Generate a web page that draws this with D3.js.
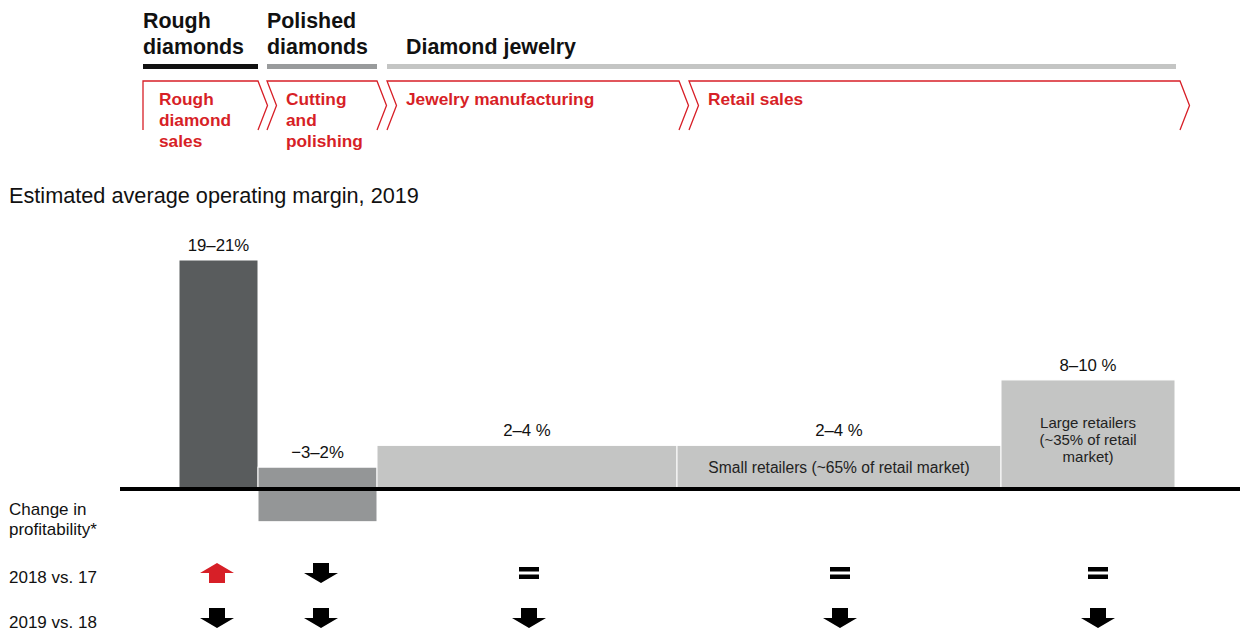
<!DOCTYPE html>
<html>
<head>
<meta charset="utf-8">
<script src="https://cdn.jsdelivr.net/npm/d3@7"></script>
<style>
  html, body { margin: 0; padding: 0; background: #fff; }
  svg { display: block; font-family: "Liberation Sans", Arial, Helvetica, sans-serif; }
</style>
</head>
<body>
<svg id="chart" width="1244" height="631"></svg>
<script>
// Value-chain stages and their operating margins
const headerGroups = [["Rough", "diamonds"], ["Polished", "diamonds"], ["Diamond jewelry"]];
const stageNames = [["Rough", "diamond", "sales"], ["Cutting", "and", "polishing"], ["Jewelry manufacturing"], ["Retail sales"]];
const segments = ["Rough diamonds", "Cutting and polishing", "Jewelry manufacturing", "Small retailers", "Large retailers"];
const marginLow = [19, -3, 2, 2, 8];
const marginHigh = [21, 2, 4, 4, 10];
const marginLabels = ["19–21%", "−3–2%", "2–4 %", "2–4 %", "8–10 %"];
const innerLabels = [[], [], [], ["Small retailers (~65% of retail market)"], ["Large retailers", "(~35% of retail", "market)"]];
const rowLabels = ["2018 vs. 17", "2019 vs. 18"];
const change2018 = ["up", "down", "equal", "equal", "equal"];
const change2019 = ["down", "down", "down", "down", "down"];

// Layout
const svg = d3.select("#chart");
const red = "#d71f27";
const barColors = ["#595c5d", "#949697", "#c4c5c4", "#c4c5c4", "#c4c5c4"];
const headerColors = ["#111111", "#999b9c", "#c4c5c4"];
const headerSpans = [[143, 258], [267, 377], [387, 1176]];
const chevronSpans = [[143, 258], [267, 377], [387, 679], [689, 1180]];
const barEdges = [[179, 258], [258, 377], [377, 677], [677, 1001], [1001, 1175]];
const markX = [217, 321, 529, 840, 1098];

const y = d3.scaleLinear().domain([0, 21]).range([489, 260]);

// Header titles and bars
headerGroups.forEach((lines, i) => {
  const hx = i === 2 ? 406 : headerSpans[i][0];
  const t = svg.append("text")
    .attr("y", lines.length === 2 ? 28 : 54)
    .attr("font-size", 21.4).attr("font-weight", "bold").attr("fill", "#111");
  lines.forEach((l, j) => t.append("tspan").attr("x", hx).attr("dy", j ? 26 : 0).text(l));
});
svg.selectAll("rect.hdr").data(headerSpans).join("rect")
  .attr("class", "hdr")
  .attr("x", d => d[0]).attr("width", d => d[1] - d[0])
  .attr("y", 64).attr("height", 5)
  .attr("fill", (d, i) => headerColors[i]);

// Chevrons (open at the bottom)
const chevTop = 81, chevMid = 105.5, chevBot = 130, notch = 9.5;
chevronSpans.forEach((s, i) => {
  const [x0, x1] = s;
  const p = d3.path();
  if (i === 0) { p.moveTo(x0, chevBot); p.lineTo(x0, chevTop); }
  else { p.moveTo(x0, chevBot); p.lineTo(x0 + notch, chevMid); p.lineTo(x0, chevTop); }
  p.lineTo(x1, chevTop); p.lineTo(x1 + notch, chevMid); p.lineTo(x1, chevBot);
  svg.append("path").attr("d", p.toString()).attr("fill", "none")
    .attr("stroke", red).attr("stroke-width", 1.3);
  const t = svg.append("text").attr("y", 105).attr("font-size", 17.3)
    .attr("font-weight", "bold").attr("fill", red);
  const tx = i === 0 ? 159 : i === 1 ? 286 : x0 + 19;
  stageNames[i].forEach((l, j) => t.append("tspan").attr("x", tx).attr("dy", j ? 21 : 0).text(l));
});

// Title
svg.append("text").attr("x", 9).attr("y", 203).attr("font-size", 21.7)
  .attr("fill", "#111").text("Estimated average operating margin, 2019");

// Bars
const bars = segments.map((s, i) => ({
  name: s, lo: Math.min(0, marginLow[i]), hi: marginHigh[i],
  x0: barEdges[i][0], x1: barEdges[i][1], i
}));
svg.selectAll("rect.bar").data(bars).join("rect")
  .attr("class", "bar")
  .attr("x", d => d.x0).attr("width", d => d.x1 - d.x0)
  .attr("y", d => y(d.hi)).attr("height", d => y(d.lo) - y(d.hi))
  .attr("fill", d => barColors[d.i])
  .attr("stroke", "#fff").attr("stroke-width", 1);

// Value labels
svg.selectAll("text.val").data(bars).join("text")
  .attr("class", "val")
  .attr("x", d => (d.x0 + d.x1) / 2)
  .attr("y", d => y(d.hi) - 9)
  .attr("text-anchor", "middle").attr("font-size", 16.8).attr("fill", "#111")
  .text(d => marginLabels[d.i]);

// Labels inside the retail bars
bars.forEach(d => {
  const lines = innerLabels[d.i];
  if (!lines.length) return;
  const cx = (d.x0 + d.x1) / 2;
  const y0 = lines.length === 1 ? 473 : 428;
  const t = svg.append("text").attr("y", y0).attr("text-anchor", "middle")
    .attr("font-size", lines.length === 1 ? 15.6 : 15).attr("fill", "#222");
  lines.forEach((l, j) => t.append("tspan").attr("x", cx).attr("dy", j ? 17 : 0).text(l));
});

// Zero line
svg.append("line").attr("x1", 120).attr("x2", 1240)
  .attr("y1", y(0)).attr("y2", y(0))
  .attr("stroke", "#000").attr("stroke-width", 4);

// Row labels
const cl = svg.append("text").attr("y", 515).attr("font-size", 17).attr("fill", "#111");
["Change in", "profitability*"].forEach((l, j) => cl.append("tspan").attr("x", 9).attr("dy", j ? 20 : 0).text(l));
const rowY = [573, 618];
rowLabels.forEach((l, j) => svg.append("text").attr("x", 9).attr("y", rowY[j] + 10)
  .attr("font-size", 17).attr("fill", "#111").text(l));

// Change indicators
function arrow(cx, cy, dir) {
  const hw = 17, sw = 8, h = 10; // head half-width, shaft half-width, half-height
  const s = dir === "up" ? -1 : 1;
  return d3.line()([
    [cx - sw, cy - s * h], [cx + sw, cy - s * h], [cx + sw, cy],
    [cx + hw, cy], [cx, cy + s * h], [cx - hw, cy], [cx - sw, cy]
  ]) + "Z";
}
[change2018, change2019].forEach((row, r) => {
  row.forEach((c, i) => {
    const cx = markX[i], cy = rowY[r];
    if (c === "equal") {
      [-6, 1.5].forEach(dy => svg.append("rect").attr("x", cx - 10).attr("y", cy + dy)
        .attr("width", 20).attr("height", 4.5).attr("fill", "#000"));
    } else {
      svg.append("path").attr("d", arrow(cx, cy, c))
        .attr("fill", c === "up" ? red : "#000");
    }
  });
});
</script>
</body>
</html>
